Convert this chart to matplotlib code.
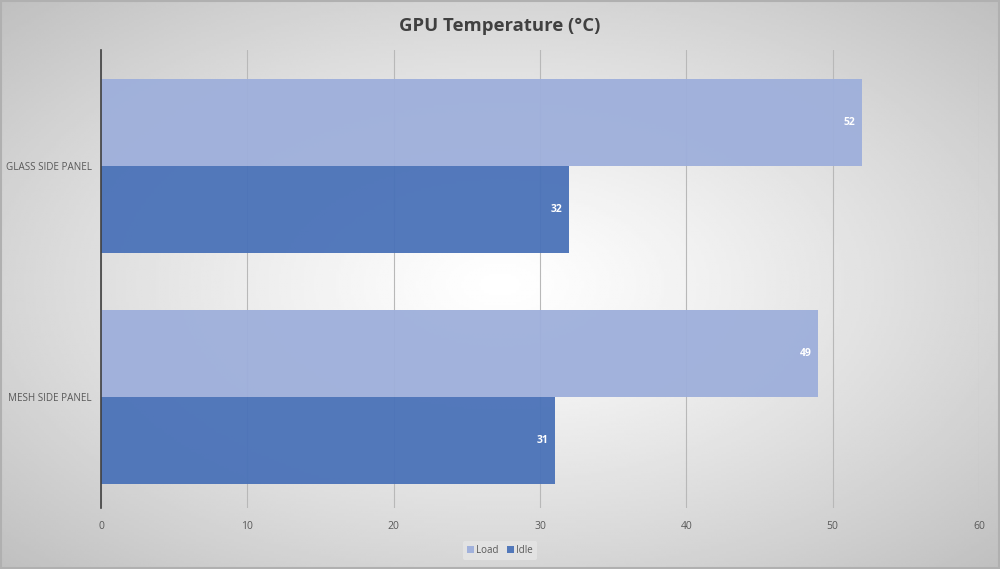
import numpy as np
import matplotlib.pyplot as plt
from matplotlib.patches import Rectangle

plt.rcParams['font.family'] = ['Open Sans', 'DejaVu Sans']

categories = ['MESH SIDE PANEL', 'GLASS SIDE PANEL']
load = [49, 52]
idle = [31, 32]
x_ticks = [0, 10, 20, 30, 40, 50, 60]

fig = plt.figure(figsize=(10, 5.69), dpi=100)

# radial gradient background
bg = fig.add_axes([0, 0, 1, 1], zorder=-10)
gx, gy = np.meshgrid(np.linspace(-1, 1, 400), np.linspace(-1, 1, 240))
r = np.sqrt(gx**2 + gy**2) / np.sqrt(2)
shade = 1.0 - 0.25 * np.clip(r, 0, 1) ** 1.2
bg.imshow(shade, cmap='gray', vmin=0, vmax=1, aspect='auto', extent=[0, 1, 0, 1])
bg.add_patch(Rectangle((0.001, 0.001), 0.998, 0.997, fill=False, edgecolor='#b0b0b0', lw=1.5))
bg.set_xlim(0, 1)
bg.set_ylim(0, 1)
bg.axis('off')

ax = fig.add_axes([0.101, 0.107, 0.878, 0.805])
ax.patch.set_alpha(0)

y = np.arange(len(categories))
h = 0.377
b1 = ax.barh(y + h / 2, load, height=h, color='#9eafdb', alpha=0.95, label='Load', zorder=2)
b2 = ax.barh(y - h / 2, idle, height=h, color='#4a72b8', alpha=0.95, label='Idle', zorder=2)

for bars, vals in [(b1, load), (b2, idle)]:
    for bar, v in zip(bars, vals):
        ax.text(v - 0.45, bar.get_y() + bar.get_height() / 2, str(v), ha='right', va='center',
                color='white', fontsize=7.5, fontweight='bold', zorder=3)

ax.set_xlim(0, 60)
ax.set_ylim(-0.48, 1.5)
ax.set_xticks(x_ticks)
ax.set_yticks(y)
ax.set_yticklabels(categories)
ax.tick_params(axis='both', length=0, labelsize=7.5, labelcolor='#595959')
ax.tick_params(axis='y', labelsize=7.1, pad=6.5)
ax.tick_params(axis='x', pad=9)
ax.grid(axis='x', color='#b8b8b8', lw=0.8, zorder=0)
ax.set_axisbelow(True)
for s in ['top', 'right', 'bottom']:
    ax.spines[s].set_visible(False)
ax.spines['left'].set_color('#404040')
ax.spines['left'].set_linewidth(1.2)

fig.text(0.5, 0.955, 'GPU Temperature (°C)', ha='center', va='center', fontsize=13.3,
         fontweight='bold', color='#404040')

leg = fig.legend(loc='center', bbox_to_anchor=(0.5, 0.033), ncol=2, fontsize=7,
                 frameon=True, handlelength=0.7, handleheight=0.7, handletextpad=0.3,
                 columnspacing=0.8, borderpad=0.4)
leg.get_frame().set_facecolor('#e4e4e4')
leg.get_frame().set_edgecolor('none')
leg.get_frame().set_alpha(0.9)
for t in leg.get_texts():
    t.set_color('#595959')

fig.savefig('out.png', dpi=100)
